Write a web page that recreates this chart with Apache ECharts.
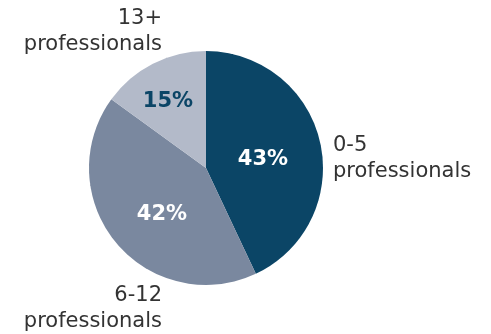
<!DOCTYPE html>
<html>
<head>
<meta charset="utf-8">
<script src="https://cdn.jsdelivr.net/npm/echarts@6/dist/echarts.min.js"></script>
<style>
  html, body { margin: 0; padding: 0; background: #fff; }
  #chart { width: 491px; height: 334px; }
</style>
</head>
<body>
<div id="chart"></div>
<script>
const categories = ["0-5", "6-12", "13+"];
const shares = [43, 42, 15];
const sliceColors = ["#0b4566", "#7a889f", "#b3bac9"];
const pctColors = ["#ffffff", "#ffffff", "#0b4566"];

// label spots (layout only)
const pctPos = [[263, 160], [162, 215], [168, 102]];
const namePos = [
  { x: 333, y: 159, align: "left" },
  { x: 162, y: 309, align: "right" },
  { x: 162, y: 32, align: "right" },
];

let myChart = echarts.init(document.getElementById("chart"));
myChart.setOption({
  animation: false,
  series: [
    {
      type: "pie",
      center: [206, 168],
      radius: 117,
      startAngle: 90,
      clockwise: true,
      silent: true,
      data: categories.map((c, i) => ({
        name: c,
        value: shares[i],
        itemStyle: { color: sliceColors[i] },
        label: { color: pctColors[i] },
      })),
      label: {
        position: "inside",
        formatter: (p) => p.value + "%",
        fontFamily: "DejaVu Sans",
        fontWeight: "bold",
        fontSize: 21,
        overflow: "none",
      },
      labelLayout: (p) => ({
        x: pctPos[p.dataIndex][0],
        y: pctPos[p.dataIndex][1],
        align: "center",
        verticalAlign: "middle",
      }),
    },
    {
      type: "pie",
      center: [206, 168],
      radius: 117,
      startAngle: 90,
      clockwise: true,
      silent: true,
      z: 1,
      data: categories.map((c, i) => ({
        name: c,
        value: shares[i],
        itemStyle: { color: "rgba(0,0,0,0)" },
      })),
      label: {
        position: "outside",
        formatter: (p) => p.name + "\nprofessionals",
        fontFamily: "DejaVu Sans",
        fontSize: 21,
        lineHeight: 26,
        color: "#333333",
        overflow: "none",
        width: 200,
      },
      labelLine: { show: false },
      labelLayout: (p) => ({
        x: namePos[p.dataIndex].x,
        y: namePos[p.dataIndex].y,
        align: namePos[p.dataIndex].align,
        verticalAlign: "middle",
      }),
    },
  ],
});
</script>
</body>
</html>
